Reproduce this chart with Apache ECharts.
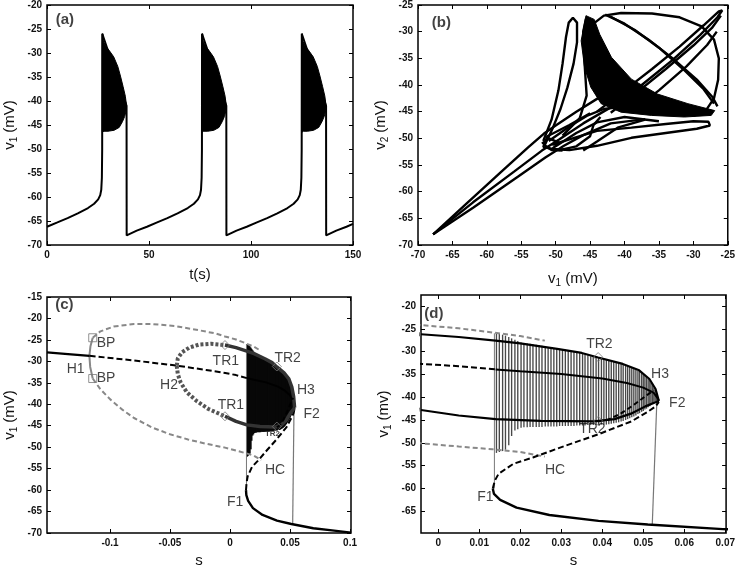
<!DOCTYPE html>
<html><head><meta charset="utf-8">
<script src="https://cdn.jsdelivr.net/npm/echarts@6/dist/echarts.min.js"></script>
<style>html,body{margin:0;padding:0;background:#fff}#c{width:738px;height:569px}</style>
</head><body><div id="c"></div>
<script>
// ---------- Panel (a): v1 vs t ----------
const traceA = [[0,-66.2],[5.1,-65.3],[10.1,-64.4],[15.1,-63.4],[20.1,-62.3],[23.1,-61.4],[25.1,-60.5],[26.1,-59.6],[26.6,-58.5],[26.9,-56],[27.05,-50],[27.1,-26],
 [39.0,-41],[39.05,-68],[39.5,-67.9],[44,-67.0],[49,-66.2],[54,-65.3],[59,-64.4],[64,-63.4],[69,-62.3],[72,-61.4],[74,-60.5],[75,-59.6],[75.5,-58.5],[75.8,-56],[75.95,-50],[76.0,-26],
 [87.9,-41],[87.95,-68],[88.4,-67.9],[92.9,-67.0],[97.9,-66.2],[102.9,-65.3],[107.9,-64.4],[112.9,-63.4],[117.9,-62.3],[120.9,-61.4],[122.9,-60.5],[123.9,-59.6],[124.4,-58.5],[124.7,-56],[124.85,-50],[124.9,-26],
 [136.8,-41],[136.85,-68],[137.3,-67.9],[141.8,-67.0],[146.8,-66.2],[150,-65.6]];
const burstA1 = [[27.1,-26],[27.4,-26],[27.6,-27.5],[28.7,-28.5],[30.7,-29.6],[32.7,-30.8],[34.7,-32.8],[36,-34.8],[37.3,-37],[38.4,-39],[39,-41],[38.8,-42],[38.1,-43.2],[37,-44.3],[35.4,-45.5],[32.9,-46.1],[29.9,-46.3],[27.9,-46.3],[27.1,-46.5]];
const burstA2 = [[76,-26],[76.3,-26],[76.5,-27.5],[77.6,-28.5],[79.6,-29.6],[81.6,-30.8],[83.6,-32.8],[84.9,-34.8],[86.2,-37],[87.3,-39],[87.9,-41],[87.7,-42],[87,-43.2],[85.9,-44.3],[84.3,-45.5],[81.8,-46.1],[78.8,-46.3],[76.8,-46.3],[76,-46.5]];
const burstA3 = [[124.9,-26],[125.2,-26],[125.4,-27.5],[126.5,-28.5],[128.5,-29.6],[130.5,-30.8],[132.5,-32.8],[133.8,-34.8],[135.1,-37],[136.2,-39],[136.8,-41],[136.6,-42],[135.9,-43.2],[134.8,-44.3],[133.2,-45.5],[130.7,-46.1],[127.7,-46.3],[125.7,-46.3],[124.9,-46.5]];

// ---------- Panel (b): v2 vs v1 ----------
const bBand = [[-45.6,-27.0],[-46.3,-31.7],[-45.8,-36.7],[-44.9,-40.4],[-43.4,-43.5],[-40.5,-45.1],[-36.1,-45.7],[-31.3,-46.0],[-27.4,-45.7],[-26.9,-44.8],[-30.8,-43.5],[-35.2,-41.7],[-39.0,-38.9],[-41.9,-34.8],[-43.6,-30.5],[-44.4,-27.7]];
const bFanU = [[-67.8,-68],[-63,-62.3],[-58,-56.4],[-54,-51.7],[-51.7,-49.1],[-50,-47.6],[-47,-45],[-44,-42.6],[-41,-40.4]];
const bFanM = [[-67.8,-68],[-62,-62],[-56,-56.2],[-52,-52.3],[-49.5,-50.2],[-46,-47.2],[-42,-44.2],[-38,-42.3]];
const bFanL = [[-67.8,-68],[-62,-63],[-55.5,-57.2],[-51.5,-53.6],[-48.8,-51.4],[-46,-49.4],[-42,-47.2],[-37,-46.4]];
const bLolli = [[-51.8,-50.5],[-50.6,-46.5],[-49.6,-41],[-49,-36],[-48.5,-31],[-48.1,-28.3],[-47.5,-27.4],[-46.9,-28.3],[-46.9,-32],[-47.4,-36],[-48.3,-40.5],[-49.3,-44.5],[-50.4,-48],[-51.6,-51.3],[-50.6,-52.2],[-49,-52.3]];
const bBottom = [[-50.5,-52],[-48,-52.2],[-44,-51.4],[-39,-49.9],[-34,-49.0],[-29.5,-48.2],[-27.6,-47.6],[-27.8,-46.9],[-30,-46.8],[-34,-47.3],[-39,-48],[-44,-48.6],[-48,-50.2],[-50.5,-51.2]];
const bEll = [[-44.5,-28.5],[-43,-27],[-40.5,-26.5],[-36,-26.6],[-32,-27.3],[-28.8,-29],[-27,-31.5],[-26.3,-35],[-26.4,-39],[-27,-42.5],[-28.2,-44.8],[-30,-45.8]];
const bX1 = [[-42.8,-26.8],[-40,-28.5],[-36.5,-31.5],[-33,-35],[-29.5,-39],[-27.2,-42.3],[-26.5,-44]];
const bX2 = [[-42,-27.2],[-38.5,-29.7],[-35,-33],[-31.5,-37],[-28.5,-40.8],[-27,-43.5]];
const bN1 = [[-44,-45],[-40,-41],[-36,-37],[-32,-32.8],[-28.5,-28.8],[-26.3,-26.2],[-25.8,-26],[-26.5,-27.3],[-29,-30.6],[-33,-35.3],[-37.5,-40],[-41,-43.5]];
const bN2 = [[-42,-45.2],[-38,-41.2],[-34,-37],[-30,-32.6],[-27.3,-29.3],[-26,-27]];
const bN3 = [[-39,-45],[-35,-41],[-31,-36.5],[-28,-32.5],[-26.6,-30]];
const bTangle = [[-52,-51],[-51,-50],[-49.5,-50.8],[-50.5,-52],[-51.8,-51.6],[-51.2,-49.6],[-48,-47.5],[-45,-45.3]];
const bLobe = [[-49.5,-52.2],[-47,-51.5],[-45,-49.6],[-44.5,-47.5],[-43.5,-46]];
const bCurve2 = [[-46,-52.3],[-44,-50.6],[-41,-48],[-37,-46.5]];
const bFill1 = [[-51,-50.5],[-48,-47.8],[-45.5,-45.8],[-43,-44.5],[-40,-44]];
const bFill2 = [[-50,-51.5],[-47,-49],[-44,-47],[-40,-46],[-35,-46.8]];
const bFill3 = [[-49,-49.5],[-46.5,-46.2],[-45.5,-42],[-45.8,-36],[-46,-30],[-45.6,-27.6]];

// ---------- Panels (c) and (d): bifurcation diagrams (s, v1) ----------
const eqUpperSolid = [[-0.1525,-27.9],[-0.135,-28.3],[-0.117,-28.7]];
const eqUpperDashed = [[-0.117,-28.7],[-0.08,-29.8],[-0.0444,-31.0],[-0.02,-32.0],[-0.004,-32.7],[0.005,-33.2],[0.014,-33.9]];
const eqUpperInner = [[0.014,-33.9],[0.02,-34.3],[0.03,-34.9],[0.04,-35.9],[0.046,-36.9],[0.05,-37.9],[0.0525,-39],[0.0535,-40.2],[0.0538,-40.8]];
const eqMidDashed = [[0.0133,-60],[0.0138,-58.3],[0.0147,-56.8],[0.0183,-54.6],[0.0231,-53.2],[0.0311,-50.6],[0.0391,-48.1],[0.0471,-45.3],[0.0511,-43.2],[0.053,-42],[0.0538,-41]];
const eqLower = [[0.0133,-60],[0.0136,-61.2],[0.0151,-62.5],[0.0191,-64.2],[0.0271,-65.8],[0.0391,-67.1],[0.0511,-67.9],[0.0694,-68.9],[0.085,-69.4],[0.1008,-69.9]];
const perUpperDash = [[-0.0444,-31],[-0.0435,-29.3],[-0.04,-27.9],[-0.034,-26.8],[-0.026,-26.1],[-0.016,-25.9],[-0.0042,-26.2]];
const perUpperSolid = [[-0.0042,-26.2],[0.005,-26.8],[0.014,-27.6],[0.02,-28.2],[0.029,-29.4],[0.035,-30.3],[0.039,-31.3],[0.045,-32.7],[0.049,-34.1],[0.0515,-36],[0.053,-38.2],[0.0538,-40.8]];
const perLowerDash = [[-0.0444,-31],[-0.0435,-33],[-0.041,-35],[-0.036,-37.2],[-0.028,-39.2],[-0.018,-41.1],[-0.0042,-42.8]];
const perLowerSolid = [[-0.0042,-42.8],[0.005,-44.0],[0.014,-44.8],[0.025,-45.2],[0.038,-45.3],[0.043,-44.8],[0.047,-43.6],[0.0505,-42],[0.053,-41.1],[0.0538,-40.8]];
const perTR2Dashed = [[0.039,-45.3],[0.0415,-44.9],[0.0445,-43.6],[0.0475,-41.8],[0.0505,-39.8],[0.0525,-38.5]];
const grayUpper = [[-0.1144,-24.5],[-0.108,-23],[-0.097,-21.9],[-0.08,-21.3],[-0.065,-21.3],[-0.045,-21.8],[-0.025,-22.8],[-0.012,-23.5],[-0.0042,-24.2],[0.005,-24.9],[0.0132,-25.8],[0.02,-26.6],[0.026,-27.6]];
const grayLower = [[-0.1144,-34],[-0.108,-36.5],[-0.1,-38.8],[-0.09,-41.2],[-0.08,-43.2],[-0.065,-45.4],[-0.05,-47],[-0.035,-48.2],[-0.02,-49.2],[-0.0042,-50.1],[0.005,-50.8],[0.0132,-51.4],[0.02,-52],[0.026,-53]];
const graySolid = [[-0.1144,-24.5],[-0.1163,-26.5],[-0.1172,-28.7],[-0.1165,-31.3],[-0.1144,-34]];
const jumpUp = [[0.0137,-60],[0.0137,-26]];
const jumpDown = [[0.0533,-41.2],[0.0522,-67.9]];
const bpPts = [[-0.1144,-24.5],[-0.1144,-34]];
const tr1Pts = [[-0.0042,-26.2],[-0.0042,-42.8]];
const tr2Pts = [[0.039,-31.2],[0.039,-45.2]];
// bursting trajectory spikes: s, minimum, maximum
const spikeS  = [0.0142,0.0149,0.0157,0.0164,0.0172,0.0179,0.0187,0.0194,0.0202,0.0209,0.0217,0.0224,0.0231,0.0239,0.0246,0.0253,0.0261,0.0268,0.0275,0.0282,0.0289,0.0296,0.0303,0.031,0.0317,0.0324,0.0331,0.0338,0.0345,0.0352,0.0358,0.0365,0.0372,0.0378,0.0385,0.0391,0.0398,0.0404,0.041,0.0416,0.0422,0.0428,0.0434,0.044,0.0446,0.0451,0.0457,0.0462,0.0467,0.0472,0.0477,0.0482,0.0487,0.0491,0.0496,0.05,0.0504,0.0508,0.0512,0.0516,0.0519,0.0523,0.0526,0.0529,0.0532];
const spikeLo = [-52.2,-52,-51.8,-51.5,-50.5,-48.5,-47.3,-47,-46.7,-46.6,-46.6,-46.5,-46.5,-46.5,-46.5,-46.5,-46.4,-46.4,-46.4,-46.4,-46.4,-46.3,-46.3,-46.3,-46.3,-46.3,-46.3,-46.2,-46.2,-46.2,-46.2,-46.1,-46.1,-46.1,-46.1,-46.1,-46.0,-46.0,-46.0,-45.9,-45.8,-45.7,-45.6,-45.5,-45.3,-45.2,-45.0,-44.8,-44.6,-44.4,-44.2,-44.0,-43.7,-43.5,-43.2,-43.0,-42.7,-42.5,-42.2,-42.0,-41.7,-41.5,-41.2,-41.0,-40.8];
const spikeHi = [-26,-26.1,-26.3,-26.5,-26.8,-27.1,-27.4,-27.7,-28,-28.1,-28.2,-28.3,-28.4,-28.5,-28.6,-28.7,-28.9,-29.0,-29.1,-29.2,-29.3,-29.4,-29.5,-29.6,-29.8,-29.9,-30.0,-30.2,-30.3,-30.5,-30.6,-30.8,-31.0,-31.1,-31.2,-31.3,-31.5,-31.6,-31.8,-31.9,-32.1,-32.2,-32.4,-32.5,-32.7,-32.8,-33.0,-33.2,-33.4,-33.6,-33.8,-34.0,-34.2,-34.4,-34.7,-35.0,-35.3,-35.6,-36.0,-36.4,-36.9,-37.4,-37.9,-38.4,-39.0];
// text annotations
const labelsC = [["BP",-0.1033,-25.7],["BP",-0.1033,-34.0],["H1",-0.1286,-31.7],["H2",-0.0508,-35.5],["TR1",-0.0035,-29.9],["TR1",0.0007,-40.1],["TR2",0.048,-29.3],["H3",0.0632,-36.7],["F2",0.068,-42.4],["HC",0.0375,-55.3],["F1",0.0042,-62.9]];
const labelsCsmall = [["TR2",0.0354,-46.9]];
const labelsD = [["TR2",0.0393,-28.4],["H3",0.0541,-34.9],["F2",0.0583,-41.3],["TR2",0.0376,-47.1],["HC",0.0285,-56.0],["F1",0.0115,-61.8]];
const panelTags = [["(a)",8.8,-23.1,0],["(b)",-66.6,-28.3,2],["(c)",-0.138,-16.9,4],["(d)",-0.00105,-21.7,6]];
const ticksCx = [-0.1,-0.05,0,0.05,0.1];
const ticksDx = [0,0.01,0.02,0.03,0.04,0.05,0.06,0.07];
const ticksDy = [-65,-60,-55,-50,-45,-40,-35,-30,-25,-20];

// ---------- build ----------
const FF = 'Liberation Sans, Arial, sans-serif';
const tickLab = {fontFamily:FF, fontSize:10, fontWeight:'bold', color:'#111', margin:5};
const tickSty = {inside:true, length:4, lineStyle:{color:'#000', width:1}};
const richName = {n:{fontFamily:FF, fontSize:15, color:'#111'}, s:{fontFamily:FF, fontSize:10, color:'#111', padding:[9,0,0,0]}};
const grids = [
  {left:47, top:5, width:306, height:240},
  {left:418, top:4, width:310, height:241},
  {left:47, top:297, width:304, height:241},
  {left:421, top:295, width:307, height:242}
].map(g => Object.assign(g, {show:true, borderColor:'#000', borderWidth:1.5, containLabel:false}));

function axes(dim, gi, min, max, interval, custom, name, gap) {
  const base = {type:'value', gridIndex:gi, min, max, splitLine:{show:false}, axisLine:{show:false, onZero:false}};
  if (interval) base.interval = interval;
  const main = Object.assign({}, base, {
    position: dim==='x' ? 'bottom' : 'left',
    axisTick: Object.assign({}, tickSty, custom ? {customValues:custom} : {}),
    axisLabel: Object.assign({}, tickLab, custom ? {customValues:custom} : {}),
    name: name, nameLocation:'middle', nameGap: gap,
    nameRotate: dim==='y' ? 90 : 0,
    nameTextStyle: {fontFamily:FF, fontSize:15, color:'#111', rich:richName}
  });
  const mirror = Object.assign({}, base, {
    position: dim==='x' ? 'top' : 'right',
    axisTick: Object.assign({}, tickSty, custom ? {customValues:custom} : {}),
    axisLabel: {show:false}
  });
  return [main, mirror];
}
const xAxis = [].concat(
  axes('x',0,0,150,50,null,'t(s)',22),
  axes('x',1,-70,-25,5,null,'{n|v}{s|1}{n| (mV)}',24),
  axes('x',2,-0.1525,0.1008,null,ticksCx,'s',20),
  axes('x',3,-0.0042,0.0702,null,ticksDx,'s',20)
);
const yAxis = [].concat(
  axes('y',0,-70,-20,5,null,'{n|v}{s|1}{n| (mV)}',28),
  axes('y',1,-70,-25,5,null,'{n|v}{s|2}{n| (mV)}',28),
  axes('y',2,-70,-15,5,null,'{n|v}{s|1}{n| (mV)}',28),
  axes('y',3,-69.75,-17.6,null,ticksDy,'{n|v}{s|1}{n| (mv)}',28)
);

function ln(data, ai, color, width, type, z) {
  return {type:'line', data, xAxisIndex:ai, yAxisIndex:ai, showSymbol:false, symbol:'none',
    lineStyle:{color, width, type:type||'solid'}, z:z||3, silent:true};
}
function poly(polys, ai, color) {
  return {type:'custom', xAxisIndex:ai, yAxisIndex:ai, coordinateSystem:'cartesian2d', silent:true, z:2,
    data: polys.map((p,i)=>[p[0][0],p[0][1],i]), encode:{x:0,y:1},
    renderItem:(params,api)=>({type:'polygon', shape:{points:polys[api.value(2)].map(q=>api.coord(q))},
      style:{fill:color, stroke:color, lineWidth:1}})};
}
function spikes(ai, color, width, z) {
  return {type:'custom', xAxisIndex:ai, yAxisIndex:ai, coordinateSystem:'cartesian2d', silent:true, z:z,
    data: spikeS.map((s,i)=>[s, spikeLo[i], spikeHi[i]]), encode:{x:0,y:[1,2]},
    renderItem:(params,api)=>{const a=api.coord([api.value(0),api.value(1)]), b=api.coord([api.value(0),api.value(2)]);
      return {type:'line', shape:{x1:a[0],y1:a[1],x2:b[0],y2:b[1]}, style:{stroke:color, lineWidth:width}};}};
}
function marks(pts, ai, symbol, size, z) {
  return {type:'scatter', data:pts, xAxisIndex:ai, yAxisIndex:ai, symbol, symbolSize:size, silent:true, z:z||6,
    itemStyle:{color:'rgba(255,255,255,0)', borderColor:'#777', borderWidth:1}};
}
function texts(items, ai, size, weight) {
  return {type:'scatter', xAxisIndex:ai, yAxisIndex:ai, symbol:'circle', symbolSize:1, silent:true, z:8,
    itemStyle:{color:'rgba(0,0,0,0)'},
    data: items.map(t=>({name:t[0], value:[t[1],t[2]]})),
    label:{show:true, position:'inside', formatter:'{b}', fontFamily:FF, fontSize:size, fontWeight:weight||'normal', color:'#111'}};
}

const series = [];
// (a)
series.push(ln(traceA,0,'#000',2));
series.push(poly([burstA1,burstA2,burstA3],0,'#000'));
// (b)
series.push(poly([bBand],2,'#000'));
[bFanU,bFanM,bFanL,bLolli,bBottom,bEll,bX1,bX2,bN1,bN2,bN3,bTangle,bLobe,bCurve2,bFill1,bFill2,bFill3].forEach(p=>series.push(ln(p,2,'#000',2.4)));
// (c) and (d)
[[4,'#080808',2],[6,'#484848',1.35]].forEach(([ai,spc,spw])=>{
  series.push(spikes(ai, spc, spw, 2));
  series.push(ln(jumpUp,ai,'#777',1,'solid',2));
  series.push(ln(jumpDown,ai,'#777',1.2,'solid',2));
  series.push(ln(grayUpper,ai,'#888',2,[5,3],3));
  series.push(ln(grayLower,ai,'#888',2,[5,3],3));
  series.push(ln(graySolid,ai,'#888',2,'solid',3));
  series.push(ln(eqUpperSolid,ai,'#000',2.2,'solid',4));
  series.push(ln(eqUpperDashed,ai,'#000',2,[6,3],4));
  series.push(ln(eqUpperInner,ai,'#000',2,'solid',4));
  series.push(ln(eqMidDashed,ai,'#000',2,[6,3],4));
  series.push(ln(eqLower,ai,'#000',2.4,'solid',4));
  series.push(ln(perUpperDash,ai,'#555',4,[3,2],4));
  series.push(ln(perLowerDash,ai,'#555',4,[3,2],4));
  series.push(ln(perUpperSolid,ai, ai===4?'#333':'#000', ai===4?3.5:2.2,'solid',4));
  series.push(ln(perLowerSolid,ai, ai===4?'#333':'#000', ai===4?3.5:2.2,'solid',4));
  series.push(ln(perTR2Dashed,ai,'#000',2,[5,3],4));
  series.push(marks(tr2Pts,ai,'diamond',9));
});
series.push(marks(bpPts,4,'rect',8));
series.push(marks(tr1Pts,4,'diamond',9));
series.push(texts(labelsC,4,14));
series.push(texts(labelsCsmall,4,8,'bold'));
series.push(texts(labelsD,6,14));
panelTags.forEach(t=>series.push(texts([t],t[3],15,'bold')));

const chart = echarts.init(document.getElementById('c'), null, {renderer:'canvas'});
chart.setOption({animation:false, backgroundColor:'#fff', grid:grids, xAxis, yAxis, series});
</script></body></html>
